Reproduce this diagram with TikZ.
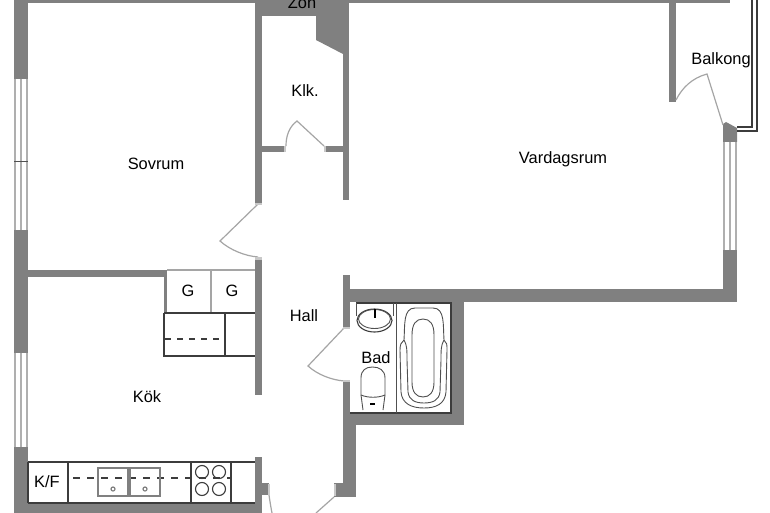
\documentclass[tikz,border=0pt]{standalone}
\usepackage{fontspec}
\setmainfont{Liberation Sans}
\tikzset{
    wall/.style={fill={rgb,255:red,128;green,128;blue,128}},
    swing/.style={draw={rgb,255:red,165;green,165;blue,165}, line width=1.2pt},
    jamb/.style={fill={rgb,255:red,200;green,200;blue,200}},
    glass/.style={draw={rgb,255:red,175;green,175;blue,175}, line width=1.5pt},
    fixture/.style={draw={rgb,255:red,60;green,60;blue,60}, line width=1.1pt},
    thin/.style={draw={rgb,255:red,80;green,80;blue,80}, line width=0.9pt},
    room/.style={inner sep=0pt, text height=11.5pt, text depth=0pt, font=\fontsize{16.4}{17}\selectfont},
}
\begin{document}
\begin{tikzpicture}[x=1pt, y=-1pt]
    \useasboundingbox[fill=white] (0, 0) rectangle (770, 513);
    % outer walls
    \fill[wall] (14, 0) rectangle (28, 79);
    \fill[wall] (14, 230) rectangle (28, 353);
    \fill[wall] (14, 447) rectangle (28, 513);
    \fill[wall] (14, 503) rectangle (262, 513);
    \fill[wall] (28, 0) rectangle (730, 3);
    \fill[wall] (255, 0) rectangle (349, 16);
    \fill[wall] (316, 16) -- (343, 16) -- (343, 54) -- (316, 40) -- cycle;
    \fill[wall] (669, 0) rectangle (676, 102);
    \fill[wall] (723, 124) -- (726, 122) -- (737, 128) -- (737, 142) -- (723, 142) -- cycle;
    \fill[wall] (723, 250) rectangle (737, 302);
    \fill[wall] (343, 289) rectangle (737, 302);
    % inner walls
    \fill[wall] (255, 0) rectangle (262, 204);
    \fill[wall] (343, 0) rectangle (349, 200);
    \fill[wall] (262, 146) rectangle (286, 152);
    \fill[wall] (324, 146) rectangle (343, 152);
    \fill[wall] (255, 258) rectangle (262, 395);
    \fill[wall] (28, 270) rectangle (167, 277);
    \fill[wall] (164, 270) rectangle (167, 313);
    \fill[wall] (343, 275) rectangle (350, 328);
    \fill[wall] (343, 381) rectangle (350, 425);
    \fill[wall] (343, 413) rectangle (464, 425);
    \fill[wall] (451, 289) rectangle (464, 425);
    \fill[wall] (343, 425) rectangle (356, 497);
    \fill[wall] (334, 483) rectangle (356, 497);
    \fill[wall] (255, 457) rectangle (262, 513);
    \fill[wall] (262, 483) rectangle (269, 495);
    % windows
    \foreach \wx in {15, 21, 27} {
        \draw[glass] (\wx, 79) -- (\wx, 230);
        \draw[glass] (\wx, 353) -- (\wx, 447);
    }
    \foreach \wx in {724, 730, 736} {
        \draw[glass] (\wx, 142) -- (\wx, 250);
    }
    \draw[thin] (14, 161) -- (28, 161);
    % balcony rail
    \draw[fixture] (752, 0) -- (752, 127) -- (737, 127);
    \draw[fixture] (757, 0) -- (757, 131) -- (737, 131);
    % doors
    \draw[swing] (258, 204) -- (220, 241) .. controls (230, 250) and (245, 256) .. (258, 257);
    \draw[swing] (324, 146) -- (297, 121) .. controls (289, 127) and (286, 136) .. (286, 146);
    \draw[swing] (344, 328) -- (308, 366) .. controls (318, 375) and (332, 380) .. (344, 381);
    \draw[swing] (723, 125) -- (707, 74) .. controls (692, 78) and (682, 88) .. (676, 100);
    \draw[swing] (334, 497) -- (316, 513);
    \draw[swing] (269, 495) .. controls (270, 502) and (271, 508) .. (272, 513);
    \fill[jamb] (255, 257) rectangle (262, 260);
    \fill[jamb] (255, 203) rectangle (262, 205);
    \fill[jamb] (343, 327) rectangle (350, 329);
    \fill[jamb] (343, 380) rectangle (350, 382);
    \fill[jamb] (284, 146) rectangle (286, 152);
    \fill[jamb] (324, 146) rectangle (326, 152);
    \fill[jamb] (334, 484) rectangle (336, 496);
    \fill[jamb] (268, 484) rectangle (270, 495);
    % wardrobes
    \draw[swing] (167, 270) -- (255, 270);
    \draw[swing] (211, 270) -- (211, 312);
    \draw[fixture] (164, 313) -- (255, 313);
    \draw[fixture] (164, 313) -- (164, 356) -- (255, 356);
    \draw[fixture] (225, 313) -- (225, 356);
    \draw[fixture, dash pattern=on 6pt off 6pt] (165, 339) -- (225, 339);
    % kitchen counter
    \draw[fixture] (28, 462) -- (255, 462);
    \draw[fixture] (28, 503) -- (255, 503);
    \draw[fixture] (28, 462) -- (28, 503);
    \foreach \cx in {68, 191, 231} {
        \draw[fixture] (\cx, 462) -- (\cx, 503);
    }
    \draw[fixture, line width=1.3pt, dash pattern=on 7pt off 7pt] (73, 478) -- (231, 478);
    \draw[swing, draw=gray] (98, 468) rectangle (128, 496);
    \draw[swing, draw=gray] (130, 468) rectangle (160, 496);
    \draw[swing, draw=gray] (113, 489) circle (2pt);
    \draw[swing, draw=gray] (145, 489) circle (2pt);
    \foreach \px in {202, 219} {
        \foreach \py in {472, 489} {
            \draw[fixture] (\px, \py) circle (6.5pt);
        }
    }
    % bathroom
    \draw[fixture] (356, 303) -- (451, 303) -- (451, 413) -- (350, 413);
    \draw[thin] (396.5, 303) -- (396.5, 413);
    % sink
    \draw[thin] (356, 303) -- (356, 316);
    \draw[thin] (393, 303) -- (393, 316);
    \draw[fixture] (374.5, 320.5) ellipse [x radius=17.5pt, y radius=11.5pt];
    \draw[thin] (374.5, 319) ellipse [x radius=16pt, y radius=9.5pt];
    \draw[line width=1.4pt] (375, 309) -- (375, 318);
    % toilet
    \draw[thin] (361, 395) -- (361, 378) .. controls (361, 370) and (366, 367) .. (372.5, 367) .. controls (379, 367) and (385, 370) .. (385, 378) -- (385, 395);
    \draw[thin] (361, 395) .. controls (368, 398) and (378, 398) .. (385, 395);
    \draw[thin] (361, 395) -- (363, 410);
    \draw[thin] (385, 395) -- (383, 410);
    \draw[line width=1.4pt] (370, 404) -- (375, 404);
    % bathtub
    \draw[thin] (404, 340) .. controls (405, 325) and (403, 308) .. (415, 308) -- (433, 308) .. controls (445, 308) and (443, 325) .. (444, 340)
        .. controls (447, 342) and (447, 345) .. (447, 350) -- (446, 392) .. controls (445, 404) and (436, 408) .. (424, 408) .. controls (412, 408) and (402, 404) .. (401, 392) -- (400, 350) .. controls (400, 345) and (401, 342) .. (404, 340);
    \draw[thin] (404, 340) .. controls (407, 345) and (407, 350) .. (407, 360) -- (408, 392) .. controls (409, 400) and (415, 403) .. (424, 403) .. controls (433, 403) and (439, 400) .. (440, 392) -- (441, 360) .. controls (441, 350) and (441, 345) .. (444, 340);
    \draw[thin] (412, 335) .. controls (412, 324) and (416, 319) .. (423, 319) .. controls (430, 319) and (434, 324) .. (434, 335) -- (434, 382) .. controls (434, 392) and (430, 397) .. (423, 397) .. controls (416, 397) and (412, 392) .. (412, 382) -- cycle;
    % labels
    \node[room] (zon) at (302, 2.5) {Zon};
    \node[room] (klk) at (305, 90.5) {Klk.};
    \node[room] (sovrum) at (156, 163.5) {Sovrum};
    \node[room] (vardagsrum) at (563, 157.5) {Vardagsrum};
    \node[room] (balkong) at (721, 58.5) {Balkong};
    \node[room] (g1) at (188, 290.5) {G};
    \node[room] (g2) at (232, 290.5) {G};
    \node[room] (hall) at (304, 315.5) {Hall};
    \node[room] (bad) at (376, 357.5) {Bad};
    \node[room] (kok) at (147, 396.5) {Kök};
    \node[room] (kf) at (47, 481.5) {K/F};
\end{tikzpicture}
\end{document}
